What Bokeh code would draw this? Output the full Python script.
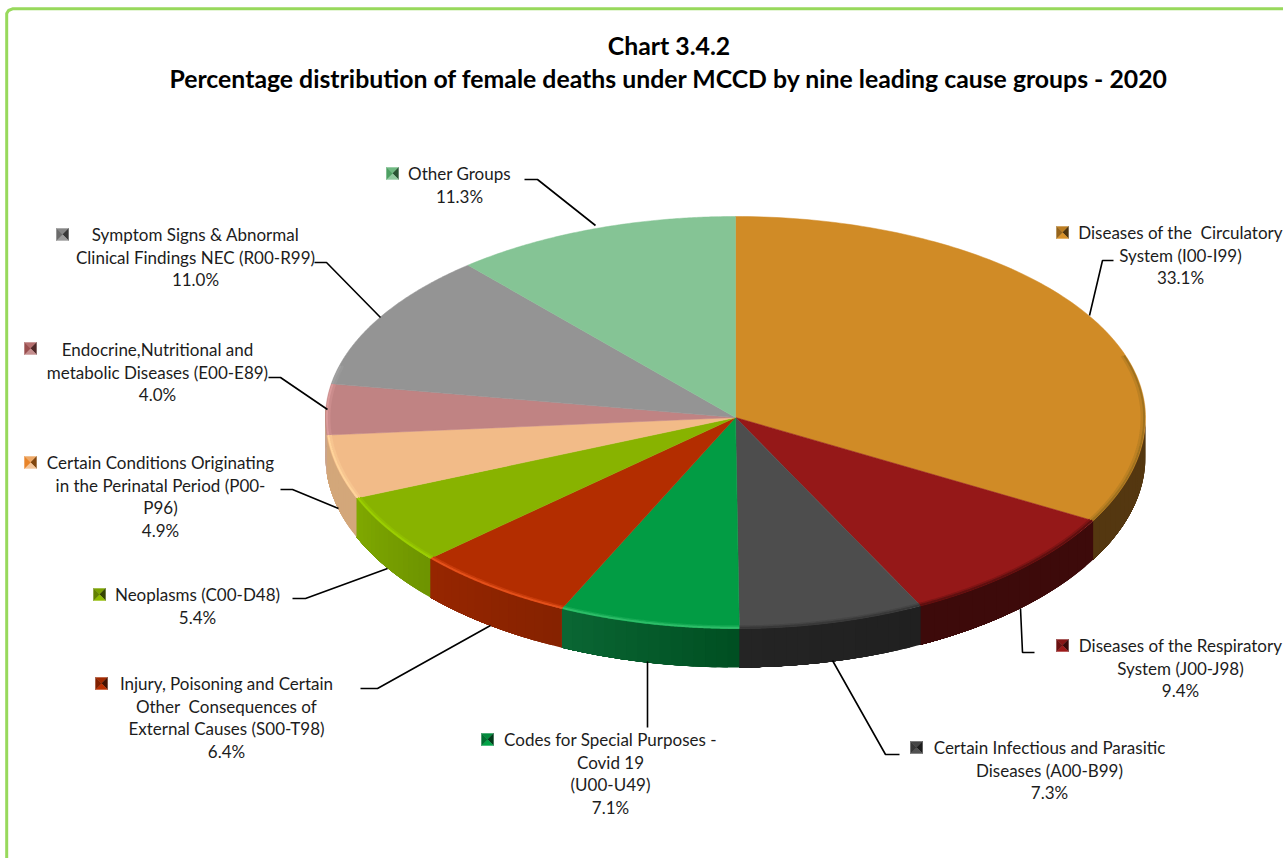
import colorsys
import numpy as np
from bokeh.core.properties import value
from bokeh.embed import file_html
from bokeh.models import Range1d
from bokeh.plotting import figure
from bokeh.resources import INLINE

W, H = 1283, 858
FONT = "Lato"

# ---- data ----
title_lines = ["Chart 3.4.2",
               "Percentage distribution of female deaths under MCCD by nine leading cause groups - 2020"]
groups = ["Circulatory", "Respiratory", "Infectious", "Codes", "Injury",
          "Neoplasms", "Perinatal", "Endocrine", "Symptom", "Other"]
shares = [33.1, 9.4, 7.3, 7.1, 6.4, 5.4, 4.9, 4.0, 11.0, 11.3]
label_lines = [
    ["Diseases of the \u00a0Circulatory", "System (I00-I99)"],
    ["Diseases of the Respiratory", "System (J00-J98)"],
    ["Certain Infectious and Parasitic", "Diseases (A00-B99)"],
    ["Codes for Special Purposes -", "Covid 19", "(U00-U49)"],
    ["Injury, Poisoning and Certain", "Other \u00a0Consequences of", "External Causes (S00-T98)"],
    ["Neoplasms (C00-D48)"],
    ["Certain Conditions Originating", "in the Perinatal Period (P00-", "P96)"],
    ["Endocrine,Nutritional and", "metabolic Diseases (E00-E89)"],
    ["Symptom Signs & Abnormal", "Clinical Findings NEC (R00-R99)"],
    ["Other Groups"],
]

# ---- styles and layout ----
face_colors = ["#D08B26", "#951818", "#4D4D4D", "#029C44", "#B32D00",
               "#88B300", "#F2BB88", "#C08383", "#949494", "#85C495"]
wall_from = ["#543710", "#3D0A0A", "#202020", "#004F22", "#862200",
             "#6E9400", "#D3A77A", "#CBA58C", "#949494", "#85C495"]
wall_to = ["#543710", "#3D0A0A", "#242424", "#0A6633", "#962600",
           "#7FA800", "#D3A77A", "#CBA58C", "#949494", "#85C495"]
rim_colors = ["#A0721F", "#5E0F0F", "#383838", "#2DBD68", "#E4501A",
              "#9BCF00", "#FFD49B", "#D99A9A", "#A0A0A0", "#85C495"]
key_centers = [(1062, 232), (1062, 645), (916, 747), (487, 739), (101, 683),
               (99, 594), (30, 462), (30, 348), (62, 234), (392, 173)]
label_centers = [1180, 1180, 1049, 610, 226, 197, 160, 157, 195, 459]
label_tops = [232, 645, 747, 739, 683, 594, 462, 349, 234, 173]
LINE_GAP = 22.7
leaders = [
    [(1113, 260), (1102, 260), (1089, 315)],
    [(1020, 608), (1022, 652), (1034, 652)],
    [(832, 660), (885, 754), (899, 754)],
    [(647, 661), (647, 727)],
    [(490, 625), (377, 688), (360, 688)],
    [(387, 568), (305, 598), (292, 598)],
    [(338, 508), (292, 489), (280, 489)],
    [(327, 409), (280, 377), (268, 377)],
    [(380, 317), (326, 262), (314, 262)],
    [(595, 225), (537, 179), (524, 179)],
]
CX, CY, RX, RY_BACK, RY_FRONT, DEPTH = 735, 417, 410, 201, 211, 39


def edge(theta, scale=1.0):
    """Point on the tilted pie's rim; theta runs clockwise from 12 o'clock."""
    theta = np.asarray(theta, dtype=float)
    c = np.cos(theta)
    ry = np.where(c > 0, RY_BACK, RY_FRONT)
    return CX + scale * RX * np.sin(theta), CY - scale * ry * c


def mix(a, b, t):
    ca = [int(a[i:i + 2], 16) for i in (1, 3, 5)]
    cb = [int(b[i:i + 2], 16) for i in (1, 3, 5)]
    return "#%02X%02X%02X" % tuple(round(x + (y - x) * t) for x, y in zip(ca, cb))


def shade(color, factor):
    ca = [int(color[i:i + 2], 16) for i in (1, 3, 5)]
    h, l, s = colorsys.rgb_to_hls(*[v / 255 for v in ca])
    r, g, b = colorsys.hls_to_rgb(h, min(1, l * factor), s)
    return "#%02X%02X%02X" % (round(r * 255), round(g * 255), round(b * 255))


p = figure(width=W, height=H, output_backend="svg", toolbar_location=None,
           x_range=Range1d(0, W), y_range=Range1d(H, 0),
           min_border=0, outline_line_color=None)
p.xaxis.visible = False
p.yaxis.visible = False
p.grid.visible = False
p.background_fill_color = "white"
p.border_fill_color = "white"

# page frame
p.line([6.2, 6.2, 8, 12, W], [H, 13, 10, 8.3, 8.3], line_color="#98D95C", line_width=3)

# slice boundaries
fractions = np.cumsum([0] + shares) / sum(shares)
angles = fractions * 2 * np.pi

# side walls, front half only, split into strips for the shading
strip_x, strip_y, strip_c = [], [], []
for i in range(len(shares)):
    a, b = max(angles[i], np.pi / 2), min(angles[i + 1], 1.52 * np.pi)
    if b <= a:
        continue
    cuts = np.linspace(a, b, 17)
    for k in range(16):
        # each strip reaches to the slice's far end, so later strips paint over and leave no seams
        th = np.linspace(cuts[k], b, 40)
        x, y = edge(th)
        strip_x.append(list(x) + list(x[::-1]))
        strip_y.append(list(y) + list((y + DEPTH)[::-1]))
        strip_c.append(mix(wall_from[i], wall_to[i], k / 15))
p.patches(strip_x, strip_y, fill_color=strip_c, line_color=None)

# top faces
face_x, face_y = [], []
for i in range(len(shares)):
    th = np.linspace(angles[i], angles[i + 1], 120)
    x, y = edge(th)
    face_x.append([CX] + list(x))
    face_y.append([CY] + list(y))
p.patches(face_x, face_y, fill_color=face_colors, line_color=face_colors, line_width=0.5)

# bevel along the rim
rim_x, rim_y, rim_c = [], [], []
soft_x, soft_y, soft_c = [], [], []
for i in range(len(shares)):
    a, b = max(angles[i], np.radians(72)), min(angles[i + 1], np.radians(285))
    if b <= a:
        continue
    th = np.linspace(a, b, 100)
    x, y = edge(th, 0.9965)
    rim_x.append(list(x)); rim_y.append(list(y)); rim_c.append(rim_colors[i])
    x, y = edge(th, 0.991)
    soft_x.append(list(x)); soft_y.append(list(y)); soft_c.append(mix(rim_colors[i], face_colors[i], 0.6))
p.multi_line(soft_x, soft_y, line_color=soft_c, line_width=2.5)
p.multi_line(rim_x, rim_y, line_color=rim_c, line_width=2)

# leader lines
p.multi_line([[q[0] for q in l] for l in leaders], [[q[1] for q in l] for l in leaders],
             line_color="#000000", line_width=1.6)

# legend keys: a small bevelled square
key_x, key_y, key_c = [], [], []
H_KEY = 6
for (kx, ky), col in zip(key_centers, face_colors):
    corners = [(kx - H_KEY, ky - H_KEY), (kx + H_KEY, ky - H_KEY),
               (kx + H_KEY, ky + H_KEY), (kx - H_KEY, ky + H_KEY)]
    tones = [shade(col, 0.9), shade(col, 0.38), shade(col, 1.05), shade(col, 0.72)]
    for j in range(4):
        c0, c1 = corners[j], corners[(j + 1) % 4]
        key_x.append([c0[0], c1[0], kx])
        key_y.append([c0[1], c1[1], ky])
        key_c.append(tones[j])
p.patches(key_x, key_y, fill_color=key_c, line_color=key_c, line_width=0.4)

# texts
tx, ty, tt = [], [], []
for lines, share, cx, top in zip(label_lines, shares, label_centers, label_tops):
    rows = lines + [f"{share:.1f}%"]
    for n, row in enumerate(rows):
        tx.append(cx); ty.append(top + n * LINE_GAP); tt.append(row)
p.text(tx, ty, text=tt, text_font=value(FONT), text_font_size="17px", text_color="#1C1C1C",
       text_align="center", text_baseline="middle")
p.text([668.5, 668.5], [45, 78], text=title_lines, text_font=value(FONT), text_font_style="bold",
       text_font_size="24.8px", text_color="#000000", text_align="center", text_baseline="middle")

open("out.html", "w").write(file_html(p, INLINE))
